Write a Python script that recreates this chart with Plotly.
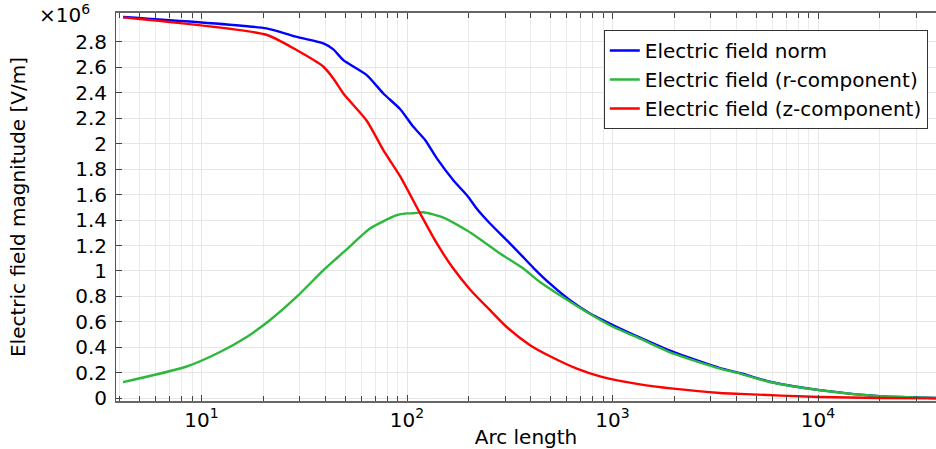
import plotly.graph_objects as go

# Arc length samples and field values (in units of 1e6 V/m)
x_norm = [4.15, 20.7, 28, 39.2, 43.8, 49, 63.7, 76.7, 92.5, 107.4, 122.5, 139.7, 168,
          198.6, 218.1, 253.5, 305.5, 354.8, 411.9, 496.6, 621, 777, 1009, 1361, 1977,
          3336, 4169, 5834, 10210, 20000, 37550]
e_norm = [2.995, 2.905, 2.845, 2.787, 2.74, 2.656, 2.538, 2.394, 2.272, 2.132, 2.028,
          1.884, 1.713, 1.582, 1.491, 1.373, 1.242, 1.135, 1.025, 0.9, 0.770, 0.666,
          0.574, 0.477, 0.364, 0.237, 0.199, 0.13, 0.064, 0.016, 0.002]

x_r = [4.15, 8.4, 12.3, 16.6, 21.5, 29, 39.2, 45.5, 50.9, 66.1, 89.1, 99.8, 107.4, 120,
       150.3, 195, 226.5, 283.7, 368, 443.6, 555, 748, 1009, 1361, 1977, 3336, 4169, 5834,
       10210, 20000, 37550]
e_r = [0.127, 0.248, 0.364, 0.482, 0.613, 0.796, 1.006, 1.10, 1.17, 1.333, 1.438, 1.452,
       1.453, 1.461, 1.42, 1.32, 1.25, 1.137, 1.019, 0.914, 0.809, 0.678, 0.56, 0.469,
       0.351, 0.233, 0.194, 0.128, 0.063, 0.016, 0.002]

x_z = [4.15, 20.7, 29, 39.2, 43.8, 49, 63.7, 76.7, 92.5, 115.6, 139.7, 168, 202.6, 253.5,
       305.5, 397, 496.6, 670, 869, 1361, 1977, 3336, 4169, 10210, 20000, 37550]
e_z = [2.992, 2.855, 2.735, 2.604, 2.512, 2.394, 2.18, 1.949, 1.745, 1.455, 1.216, 1.019,
       0.855, 0.692, 0.56, 0.417, 0.33, 0.233, 0.173, 0.11, 0.076, 0.042, 0.035, 0.01,
       0.003, 0.0]

names = ["Electric field norm", "Electric field (r-component)", "Electric field (z-component)"]
colors = ["#0000ff", "#2db83d", "#ff0000"]

x_tickvals = [10, 100, 1000, 10000]
x_ticktext = ["10<sup>1</sup>", "10<sup>2</sup>", "10<sup>3</sup>", "10<sup>4</sup>"]
x_minor = [k * 10 ** d for d in range(0, 5) for k in range(2, 10)]
y_tickvals = [0, 0.2, 0.4, 0.6, 0.8, 1, 1.2, 1.4, 1.6, 1.8, 2, 2.2, 2.4, 2.6, 2.8]
y_ticktext = ["0", "0.2", "0.4", "0.6", "0.8", "1", "1.2", "1.4", "1.6", "1.8", "2",
              "2.2", "2.4", "2.6", "2.8"]

fig = go.Figure()
for xs, ys, n, c in zip([x_norm, x_r, x_z], [e_norm, e_r, e_z], names, colors):
    fig.add_trace(go.Scatter(x=xs, y=ys, mode="lines", name=n,
                             line=dict(color=c, width=2.4, shape="spline", smoothing=0.6)))

fig.update_layout(
    width=936, height=449,
    margin=dict(l=116, r=0, t=13, b=48),
    paper_bgcolor="white", plot_bgcolor="white",
    font=dict(family="DejaVu Sans", color="black", size=20),
    legend=dict(x=0.99, y=0.956, xanchor="right", yanchor="top",
                bordercolor="#333333", borderwidth=1, bgcolor="white",
                font=dict(size=20), tracegroupgap=0),
    annotations=[dict(text="×10<sup>6</sup>", xref="paper", yref="paper",
                      x=-0.029, y=1.035, xanchor="right", yanchor="top",
                      showarrow=False, font=dict(size=20))],
)

fig.update_xaxes(
    type="log", range=[0.584, 4.574],
    tickmode="array", tickvals=x_tickvals, ticktext=x_ticktext,
    ticks="inside", ticklen=6, tickcolor="#444444",
    showline=True, linecolor="#666666", linewidth=1.5, mirror="allticks",
    showgrid=True, gridcolor="#e6e6e6", gridwidth=1, zeroline=False,
    minor=dict(tickmode="array", tickvals=x_minor, ticks="inside", ticklen=5,
               tickcolor="#444444", showgrid=True, gridcolor="#ebebeb"),
    tickfont=dict(size=20),
    title=dict(text="Arc length", font=dict(size=20), standoff=2),
)

fig.update_yaxes(
    range=[-0.021, 3.026], tickmode="array", tickvals=y_tickvals, ticktext=y_ticktext,
    ticks="inside", ticklen=6, tickcolor="#444444",
    showline=True, linecolor="#555555", linewidth=1, mirror=False,
    showgrid=True, gridcolor="#e6e6e6", zeroline=False,
    tickfont=dict(size=20), ticklabelstandoff=4,
    title=dict(text="Electric field magnitude [V/m]", font=dict(size=20), standoff=44),
)

fig.write_html("out.html")
